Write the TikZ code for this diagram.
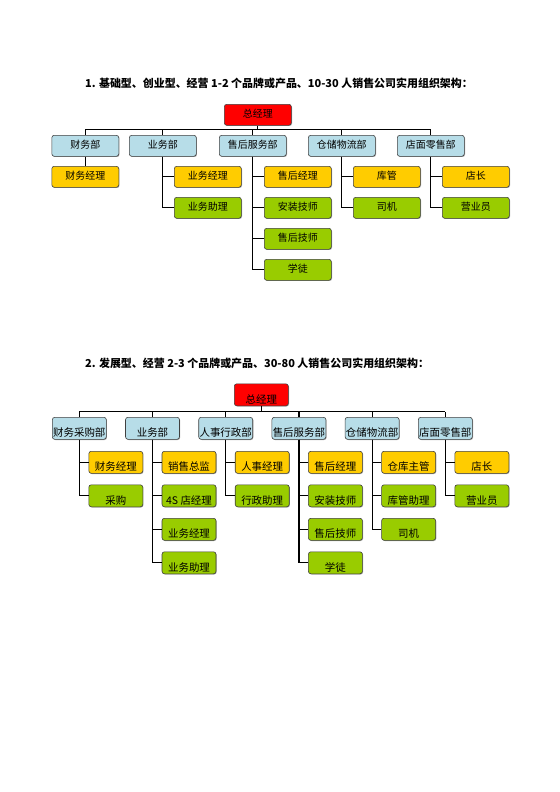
\documentclass[tikz,border=0pt]{standalone}
\usepackage{fontspec}
\newfontfamily\cjk{Noto Sans CJK SC}
\usetikzlibrary{shadows}
\definecolor{deptblue}{RGB}{183,221,232}
\definecolor{boxyellow}{RGB}{255,204,0}
\definecolor{boxgreen}{RGB}{153,204,0}
\definecolor{boxred}{RGB}{255,0,0}
\definecolor{edgegray}{RGB}{64,64,64}
\tikzset{
  box/.style={draw=edgegray, line width=0.6pt, rounded corners=2.5pt, inner sep=0pt,
    anchor=north west, text=black,
    drop shadow={shadow xshift=0.7pt, shadow yshift=-0.7pt, opacity=0.35, fill=black}},
  boxA/.style={box, minimum width=67bp, minimum height=21bp, font=\cjk\fontsize{10}{12}\selectfont,
    text height=8.4pt, text depth=2.6pt},
  boxB/.style={box, minimum width=54bp, minimum height=22bp, font=\cjk\fontsize{10.5}{12}\selectfont,
    text height=17.5pt, text depth=0.2pt},
  ceo/.style={fill=boxred},
  dept/.style={fill=deptblue},
  lead/.style={fill=boxyellow},
  staff/.style={fill=boxgreen},
  link/.style={draw=black, line width=1.2pt},
  titletext/.style={anchor=west, inner sep=0pt, font=\cjk\bfseries\fontsize{11}{13}\selectfont}
}
\begin{document}
\begin{tikzpicture}[x=1bp, y=-1bp]
\useasboundingbox[fill=white] (0,0) rectangle (560,792);

% ---------------- Chart 1 ----------------
\node[titletext] (t1) at (85,83) {1. 基础型、创业型、经营 1-2 个品牌或产品、10-30 人销售公司实用组织架构：};

\node[boxA,ceo] (a0) at (224,104) {总经理};
\coordinate (abus) at (0,129.5);

\node[boxA,dept] (a1) at (51.5,135) {财务部};
\node[boxA,dept] (a2) at (129,135) {业务部};
\node[boxA,dept] (a3) at (219,135) {售后服务部};
\node[boxA,dept] (a4) at (308,135) {仓储物流部};
\node[boxA,dept] (a5) at (397,135) {店面零售部};

\node[boxA,lead] (a11) at (51.5,166) {财务经理};

\node[boxA,lead]  (a21) at (174,166) {业务经理};
\node[boxA,staff] (a22) at (174,197) {业务助理};

\node[boxA,lead]  (a31) at (264,166) {售后经理};
\node[boxA,staff] (a32) at (264,197) {安装技师};
\node[boxA,staff] (a33) at (264,228) {售后技师};
\node[boxA,staff] (a34) at (264,259) {学徒};

\node[boxA,lead]  (a41) at (353,166) {库管};
\node[boxA,staff] (a42) at (353,197) {司机};

\node[boxA,lead]  (a51) at (442,166) {店长};
\node[boxA,staff] (a52) at (442,197) {营业员};

\draw[link] (a0.south) -- (a0.south |- abus);
\draw[link] (a1.north |- abus) -- (a5.north |- abus);
\foreach \d in {a1,a2,a3,a4,a5} \draw[link] (\d.north) -- (\d.north |- abus);
\draw[link] (a1.south) -- (a11.north);
\foreach \c in {a21,a22} \draw[link] (a2.south) |- (\c.west);
\foreach \c in {a31,a32,a33,a34} \draw[link] (a3.south) |- (\c.west);
\foreach \c in {a41,a42} \draw[link] (a4.south) |- (\c.west);
\foreach \c in {a51,a52} \draw[link] (a5.south) |- (\c.west);

% ---------------- Chart 2 ----------------
\node[titletext] (t2) at (85,363) {2. 发展型、经营 2-3 个品牌或产品、30-80 人销售公司实用组织架构：};

\node[boxB,ceo] (b0) at (234,383.5) {总经理};
\coordinate (bbus) at (0,411.5);

\node[boxB,dept] (b1) at (52,417) {财务采购部};
\node[boxB,dept] (b2) at (125.2,417) {业务部};
\node[boxB,dept] (b3) at (198.4,417) {人事行政部};
\node[boxB,dept] (b4) at (271.6,417) {售后服务部};
\node[boxB,dept] (b5) at (344.8,417) {仓储物流部};
\node[boxB,dept] (b6) at (418,417) {店面零售部};

\node[boxB,lead]  (b11) at (88.5,451) {财务经理};
\node[boxB,staff] (b12) at (88.5,484.5) {采购};

\node[boxB,lead]  (b21) at (161.7,451) {销售总监};
\node[boxB,staff] (b22) at (161.7,484.5) {4S 店经理};
\node[boxB,staff] (b23) at (161.7,518) {业务经理};
\node[boxB,staff] (b24) at (161.7,551.5) {业务助理};

\node[boxB,lead]  (b31) at (234.9,451) {人事经理};
\node[boxB,staff] (b32) at (234.9,484.5) {行政助理};

\node[boxB,lead]  (b41) at (308.1,451) {售后经理};
\node[boxB,staff] (b42) at (308.1,484.5) {安装技师};
\node[boxB,staff] (b43) at (308.1,518) {售后技师};
\node[boxB,staff] (b44) at (308.1,551.5) {学徒};

\node[boxB,lead]  (b51) at (381.3,451) {仓库主管};
\node[boxB,staff] (b52) at (381.3,484.5) {库管助理};
\node[boxB,staff] (b53) at (381.3,518) {司机};

\node[boxB,lead]  (b61) at (454.5,451) {店长};
\node[boxB,staff] (b62) at (454.5,484.5) {营业员};

\draw[link] (b0.south) -- (b0.south |- bbus);
\draw[link] (b1.north |- bbus) -- (b6.north |- bbus);
\foreach \d in {b1,b2,b3,b4,b5,b6} \draw[link] (\d.north) -- (\d.north |- bbus);
\foreach \c in {b11,b12} \draw[link] (b1.south) |- (\c.west);
\foreach \c in {b21,b22,b23,b24} \draw[link] (b2.south) |- (\c.west);
\foreach \c in {b31,b32} \draw[link] (b3.south) |- (\c.west);
\foreach \c in {b41,b42,b43,b44} \draw[link] (b4.south) |- (\c.west);
\foreach \c in {b51,b52,b53} \draw[link] (b5.south) |- (\c.west);
\foreach \c in {b61,b62} \draw[link] (b6.south) |- (\c.west);
\end{tikzpicture}
\end{document}
